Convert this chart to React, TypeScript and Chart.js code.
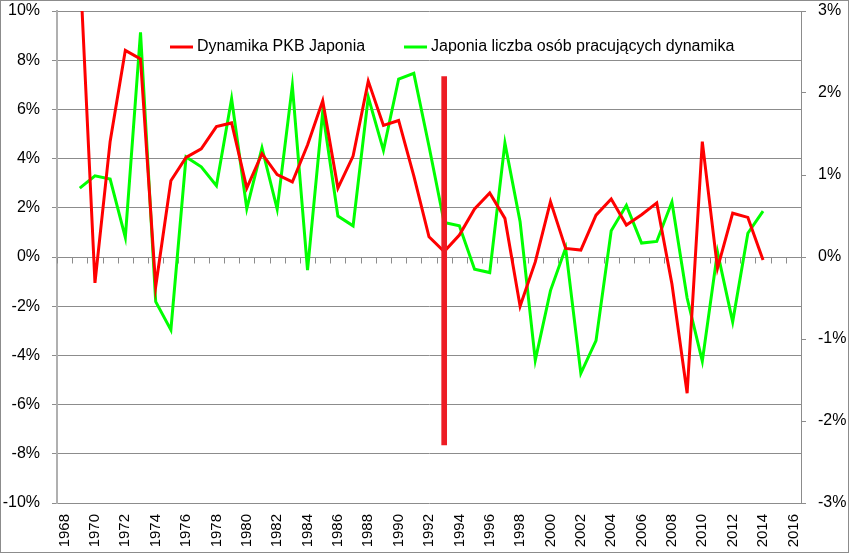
import React, { useEffect, useRef } from "react";
import { Chart, registerables } from "chart.js";

Chart.register(...registerables);

const years: number[] = [];
for (let y = 1968; y <= 2016; y++) years.push(y);

const gdpLabel = "Dynamika PKB Japonia";
const empLabel = "Japonia liczba osób pracujących dynamika";

// GDP growth (%), 1969–2014 (left axis)
const gdpYears = [
  1969, 1970, 1971, 1972, 1973, 1974, 1975, 1976, 1977, 1978, 1979, 1980, 1981, 1982, 1983, 1984,
  1985, 1986, 1987, 1988, 1989, 1990, 1991, 1992, 1993, 1994, 1995, 1996, 1997, 1998, 1999, 2000,
  2001, 2002, 2003, 2004, 2005, 2006, 2007, 2008, 2009, 2010, 2011, 2012, 2013, 2014,
];
const gdpValues = [
  12.0, -1.05, 4.7, 8.4, 8.05, -1.2, 3.1, 4.05, 4.4, 5.3, 5.45, 2.8, 4.2, 3.35, 3.05, 4.55,
  6.35, 2.8, 4.1, 7.15, 5.35, 5.55, 3.3, 0.82, 0.22, 0.89, 1.95, 2.6, 1.57, -2.0, -0.2, 2.25,
  0.35, 0.28, 1.7, 2.36, 1.3, 1.72, 2.2, -1.1, -5.54, 4.69, -0.46, 1.78, 1.61, -0.12,
];
// Employment growth (%), 1969–2014 (right axis)
const empValues = [
  0.84, 0.99, 0.95, 0.24, 2.74, -0.545, -0.89, 1.22, 1.1, 0.87, 1.93, 0.59, 1.33, 0.585, 2.09, -0.16,
  1.77, 0.5, 0.38, 1.95, 1.3, 2.17, 2.24, 1.35, 0.42, 0.38, -0.15, -0.19, 1.39, 0.43, -1.26, -0.41,
  0.11, -1.42, -1.02, 0.32, 0.63, 0.17, 0.19, 0.67, -0.5, -1.27, 0.06, -0.79, 0.29, 0.56,
];
// vertical marker bar
const markerYear = 1993;
const markerRange: [number, number] = [-7.64, 7.33];

const leftTicks = { min: -10, max: 10, step: 2 };
const rightTicks = { min: -3, max: 3, step: 1 };

const GRID = "#8c8c8c";
const FONT = "'Liberation Sans', Arial, sans-serif";

export default function App() {
  const ref = useRef<HTMLCanvasElement | null>(null);

  useEffect(() => {
    const canvas = ref.current;
    if (!canvas) return;
    Chart.defaults.font.family = FONT;
    Chart.defaults.color = "#000";

    const gdpData = years.map((y) => {
      const i = gdpYears.indexOf(y);
      return i >= 0 ? gdpValues[i] : null;
    });
    const empData = years.map((y) => {
      const i = gdpYears.indexOf(y);
      return i >= 0 ? empValues[i] : null;
    });
    const barData = years.map((y) => (y === markerYear ? markerRange : null));

    const zeroTicks = {
      id: "zeroTicks",
      beforeDatasetsDraw(chart: any) {
        const x = chart.scales.x;
        const y = chart.scales.y;
        const ctx = chart.ctx;
        const y0 = Math.round(y.getPixelForValue(0)) + 0.5;
        const n = years.length;
        ctx.save();
        ctx.strokeStyle = GRID;
        ctx.lineWidth = 1;
        ctx.beginPath();
        for (let i = 0; i <= n; i++) {
          let px: number;
          if (i === 0) px = x.left;
          else if (i === n) px = x.right;
          else px = (x.getPixelForValue(i - 1) + x.getPixelForValue(i)) / 2;
          px = Math.round(px) + 0.5;
          ctx.moveTo(px, y0);
          ctx.lineTo(px, y0 + 6);
        }
        ctx.stroke();
        ctx.restore();
      },
    };

    const legendAndBorder = {
      id: "legendAndBorder",
      afterDraw(chart: any) {
        const ctx = chart.ctx;
        ctx.save();
        ctx.strokeStyle = GRID;
        ctx.lineWidth = 1;
        ctx.strokeRect(0.5, 0.5, 848, 552);
        const items = [
          { ds: chart.data.datasets[1], x: 170 },
          { ds: chart.data.datasets[2], x: 404 },
        ];
        const ly = 47;
        ctx.font = "16px " + FONT;
        ctx.textBaseline = "middle";
        ctx.textAlign = "left";
        for (const it of items) {
          ctx.strokeStyle = it.ds.borderColor;
          ctx.lineWidth = 3;
          ctx.beginPath();
          ctx.moveTo(it.x, ly);
          ctx.lineTo(it.x + 23, ly);
          ctx.stroke();
          ctx.fillStyle = "#000";
          ctx.fillText(it.ds.label, it.x + 27, ly);
        }
        ctx.restore();
      },
    };

    const noVPad = (w: number) => (s: any) => {
      s.width = w;
      s.paddingTop = 0;
      s.paddingBottom = 0;
    };

    const chart = new Chart(canvas, {
      type: "line",
      data: {
        labels: years.map(String),
        datasets: [
          {
            type: "bar",
            label: "marker",
            data: barData as any,
            backgroundColor: "#ED1C24",
            barThickness: 5,
            yAxisID: "y",
            order: 0,
          } as any,
          {
            type: "line",
            label: gdpLabel,
            data: gdpData,
            borderColor: "#FF0000",
            backgroundColor: "#FF0000",
            borderWidth: 3,
            pointRadius: 0,
            tension: 0,
            yAxisID: "y",
            order: 1,
          },
          {
            type: "line",
            label: empLabel,
            data: empData,
            borderColor: "#00FF00",
            backgroundColor: "#00FF00",
            borderWidth: 3,
            pointRadius: 0,
            tension: 0,
            yAxisID: "y1",
            order: 2,
          },
        ],
      },
      options: {
        responsive: false,
        devicePixelRatio: 1,
        animation: false,
        layout: { padding: { top: 11, left: 0, right: 0, bottom: 0 } },
        plugins: { legend: { display: false }, tooltip: { enabled: false } },
        scales: {
          x: {
            type: "category",
            offset: true,
            grid: { display: false },
            border: { display: false },
            ticks: {
              autoSkip: false,
              maxRotation: 90,
              minRotation: 90,
              padding: 3,
              font: { size: 15 },
              color: "#000",
              callback: (_v: any, i: number) => (years[i] % 2 === 0 ? String(years[i]) : ""),
            },
            afterFit: (s: any) => {
              s.height = 52;
              s.paddingLeft = 0;
              s.paddingRight = 0;
            },
          },
          y: {
            position: "left",
            min: leftTicks.min,
            max: leftTicks.max,
            ticks: {
              stepSize: leftTicks.step,
              padding: 12,
              font: { size: 16 },
              color: "#000",
              callback: (v: any) => v + "%",
            },
            grid: { color: GRID, tickLength: 5, tickColor: GRID },
            border: { color: "#b0b0b0", width: 2 },
            afterFit: noVPad(57),
          },
          y1: {
            position: "right",
            min: rightTicks.min,
            max: rightTicks.max,
            ticks: {
              stepSize: rightTicks.step,
              padding: 12,
              font: { size: 16 },
              color: "#000",
              callback: (v: any) => v + "%",
            },
            grid: { drawOnChartArea: false, tickLength: 5, tickColor: GRID },
            border: { color: GRID },
            afterFit: noVPad(49),
          },
        },
      },
      plugins: [zeroTicks, legendAndBorder],
    } as any);

    return () => chart.destroy();
  }, []);

  return (
    <div style={{ position: "fixed", left: 0, top: 0, width: 850, height: 555, background: "#fff" }}>
      <canvas ref={ref} width={850} height={555} style={{ display: "block" }} />
    </div>
  );
}
